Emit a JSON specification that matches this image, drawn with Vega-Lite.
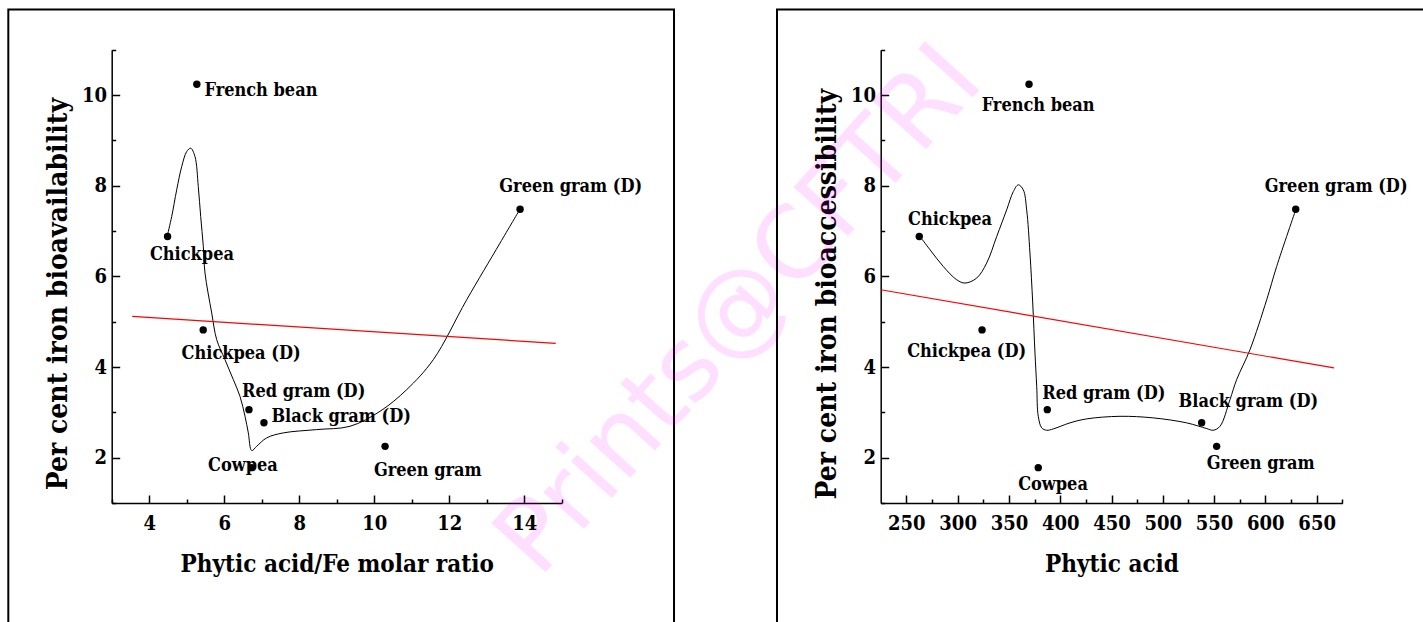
{
  "$schema": "https://vega.github.io/schema/vega-lite/v6.json",
  "background": "white",
  "width": 1423,
  "height": 622,
  "autosize": {"type": "none"},
  "padding": 0,
  "config": {
    "view": {"stroke": null},
    "font": "DejaVu Serif Condensed, DejaVu Serif",
    "axis": {
      "grid": false,
      "domainColor": "black",
      "domainWidth": 1.5,
      "tickColor": "black",
      "tickWidth": 1.5,
      "labelColor": "black",
      "labelFontSize": 20,
      "labelFontWeight": "bold",
      "labelFlush": false,
      "labelOverlap": false,
      "titleColor": "black",
      "titleFontWeight": "bold"
    }
  },
  "datasets": {
    "left_points": [
      {"name": "French bean", "ratio": 5.27, "bioavailability": 10.24, "label_x": 6.98, "label_y": 9.99},
      {"name": "Chickpea", "ratio": 4.49, "bioavailability": 6.88, "label_x": 5.14, "label_y": 6.37},
      {"name": "Green gram (D)", "ratio": 13.89, "bioavailability": 7.48, "label_x": 15.24, "label_y": 7.86},
      {"name": "Chickpea (D)", "ratio": 5.44, "bioavailability": 4.82, "label_x": 6.45, "label_y": 4.18},
      {"name": "Red gram (D)", "ratio": 6.66, "bioavailability": 3.06, "label_x": 8.12, "label_y": 3.34},
      {"name": "Black gram (D)", "ratio": 7.06, "bioavailability": 2.77, "label_x": 9.12, "label_y": 2.78},
      {"name": "Cowpea", "ratio": 6.73, "bioavailability": 1.78, "label_x": 6.5, "label_y": 1.7},
      {"name": "Green gram", "ratio": 10.29, "bioavailability": 2.25, "label_x": 11.43, "label_y": 1.59}
    ],
    "right_points": [
      {"name": "French bean", "phytic_acid": 369.6, "bioaccessibility": 10.24, "label_x": 378.5, "label_y": 9.65},
      {"name": "Chickpea", "phytic_acid": 262.6, "bioaccessibility": 6.88, "label_x": 292.6, "label_y": 7.14},
      {"name": "Green gram (D)", "phytic_acid": 629.6, "bioaccessibility": 7.48, "label_x": 669.0, "label_y": 7.86},
      {"name": "Chickpea (D)", "phytic_acid": 323.8, "bioaccessibility": 4.82, "label_x": 308.8, "label_y": 4.22},
      {"name": "Red gram (D)", "phytic_acid": 387.4, "bioaccessibility": 3.06, "label_x": 442.5, "label_y": 3.3},
      {"name": "Black gram (D)", "phytic_acid": 537.9, "bioaccessibility": 2.77, "label_x": 583.4, "label_y": 3.12},
      {"name": "Cowpea", "phytic_acid": 378.6, "bioaccessibility": 1.78, "label_x": 393.0, "label_y": 1.28},
      {"name": "Green gram", "phytic_acid": 552.5, "bioaccessibility": 2.25, "label_x": 595.5, "label_y": 1.74}
    ],
    "left_curve": [
      {"ratio": 4.483, "bioavailability": 6.896},
      {"ratio": 4.6, "bioavailability": 7.321},
      {"ratio": 4.733, "bioavailability": 7.91},
      {"ratio": 4.867, "bioavailability": 8.424},
      {"ratio": 5.0, "bioavailability": 8.754},
      {"ratio": 5.107, "bioavailability": 8.829},
      {"ratio": 5.221, "bioavailability": 8.644},
      {"ratio": 5.309, "bioavailability": 7.983},
      {"ratio": 5.373, "bioavailability": 7.321},
      {"ratio": 5.443, "bioavailability": 6.66},
      {"ratio": 5.488, "bioavailability": 6.074},
      {"ratio": 5.667, "bioavailability": 5.192},
      {"ratio": 5.8, "bioavailability": 4.604},
      {"ratio": 6.021, "bioavailability": 4.163},
      {"ratio": 6.243, "bioavailability": 3.722},
      {"ratio": 6.421, "bioavailability": 3.354},
      {"ratio": 6.555, "bioavailability": 2.913},
      {"ratio": 6.643, "bioavailability": 2.547},
      {"ratio": 6.733, "bioavailability": 2.157},
      {"ratio": 6.867, "bioavailability": 2.252},
      {"ratio": 7.133, "bioavailability": 2.437},
      {"ratio": 7.576, "bioavailability": 2.547},
      {"ratio": 8.467, "bioavailability": 2.62},
      {"ratio": 9.355, "bioavailability": 2.693},
      {"ratio": 10.155, "bioavailability": 3.023},
      {"ratio": 10.867, "bioavailability": 3.502},
      {"ratio": 11.576, "bioavailability": 4.163},
      {"ratio": 12.467, "bioavailability": 5.485},
      {"ratio": 13.355, "bioavailability": 6.735},
      {"ratio": 13.888, "bioavailability": 7.484}
    ],
    "right_curve": [
      {"phytic_acid": 263.3, "bioaccessibility": 6.881},
      {"phytic_acid": 273.1, "bioaccessibility": 6.588},
      {"phytic_acid": 286.0, "bioaccessibility": 6.219},
      {"phytic_acid": 299.1, "bioaccessibility": 5.926},
      {"phytic_acid": 307.2, "bioaccessibility": 5.853},
      {"phytic_acid": 318.6, "bioaccessibility": 5.964},
      {"phytic_acid": 328.3, "bioaccessibility": 6.294},
      {"phytic_acid": 338.1, "bioaccessibility": 6.881},
      {"phytic_acid": 347.8, "bioaccessibility": 7.469},
      {"phytic_acid": 354.3, "bioaccessibility": 7.872},
      {"phytic_acid": 359.1, "bioaccessibility": 8.02},
      {"phytic_acid": 364.0, "bioaccessibility": 7.91},
      {"phytic_acid": 367.3, "bioaccessibility": 7.469},
      {"phytic_acid": 370.5, "bioaccessibility": 6.515},
      {"phytic_acid": 373.2, "bioaccessibility": 5.413},
      {"phytic_acid": 375.4, "bioaccessibility": 4.311},
      {"phytic_acid": 377.1, "bioaccessibility": 3.574},
      {"phytic_acid": 378.6, "bioaccessibility": 2.913},
      {"phytic_acid": 382.0, "bioaccessibility": 2.657},
      {"phytic_acid": 386.8, "bioaccessibility": 2.605},
      {"phytic_acid": 393.3, "bioaccessibility": 2.635},
      {"phytic_acid": 409.5, "bioaccessibility": 2.768},
      {"phytic_acid": 425.8, "bioaccessibility": 2.856},
      {"phytic_acid": 458.3, "bioaccessibility": 2.913},
      {"phytic_acid": 490.7, "bioaccessibility": 2.878},
      {"phytic_acid": 523.3, "bioaccessibility": 2.768},
      {"phytic_acid": 542.8, "bioaccessibility": 2.642},
      {"phytic_acid": 549.2, "bioaccessibility": 2.605},
      {"phytic_acid": 555.8, "bioaccessibility": 2.693},
      {"phytic_acid": 565.5, "bioaccessibility": 3.281},
      {"phytic_acid": 572.0, "bioaccessibility": 3.722},
      {"phytic_acid": 585.0, "bioaccessibility": 4.383},
      {"phytic_acid": 601.3, "bioaccessibility": 5.485},
      {"phytic_acid": 611.0, "bioaccessibility": 6.219},
      {"phytic_acid": 629.6, "bioaccessibility": 7.469}
    ],
    "left_fit": [
      {"ratio": 3.549, "bioavailability": 5.117},
      {"ratio": 14.84, "bioavailability": 4.522}
    ],
    "right_fit": [
      {"phytic_acid": 225, "bioaccessibility": 5.706},
      {"phytic_acid": 666.9, "bioaccessibility": 3.98}
    ]
  },
  "resolve": {"scale": {"x": "independent"}, "axis": {"x": "independent", "y": "independent"}},
  "layer": [
    {
      "resolve": {"axis": {"x": "independent", "y": "independent"}},
      "layer": [
        {
          "data": {"values": [{}]},
          "mark": {"type": "rect", "filled": false, "stroke": "black", "strokeWidth": 2},
          "encoding": {
            "x": {"datum": 0.243, "type": "quantitative", "axis": null,
                  "scale": {"domain": [3, 15], "range": [111.7, 561.7], "nice": false, "zero": false}},
            "x2": {"datum": 17.995},
            "y": {"datum": 11.889, "type": "quantitative", "axis": null,
                  "scale": {"domain": [1, 11], "range": [503, 49.8], "nice": false, "zero": false}},
            "y2": {"datum": -2.5}
          }
        },
        {
          "data": {"name": "left_curve"},
          "mark": {"type": "line", "interpolate": "catmull-rom", "color": "black", "strokeWidth": 1},
          "encoding": {
            "x": {"field": "ratio", "type": "quantitative",
                  "axis": {"orient": "bottom", "offset": -119, "values": [3, 5, 7, 9, 11, 13, 15], "tickSize": -4, "labels": false, "domain": false, "title": null}},
            "y": {"field": "bioavailability", "type": "quantitative",
                  "axis": {"orient": "left", "offset": -111.7, "values": [1, 3, 5, 7, 9, 11], "tickSize": -4, "labels": false, "domain": false, "title": null}}
          }
        },
        {
          "data": {"name": "left_fit"},
          "mark": {"type": "line", "color": "#ff0000", "strokeWidth": 1.2},
          "encoding": {
            "x": {"field": "ratio", "type": "quantitative", "axis": null},
            "y": {"field": "bioavailability", "type": "quantitative", "axis": null}
          }
        },
        {
          "data": {"name": "left_points"},
          "mark": {"type": "circle", "size": 55, "color": "black", "opacity": 1},
          "encoding": {
            "x": {"field": "ratio", "type": "quantitative",
                  "axis": {"orient": "bottom", "offset": -119, "values": [4, 6, 8, 10, 12, 14], "tickSize": -8, "labelPadding": 34.3, "labelBaseline": "alphabetic",
                           "title": "Phytic acid/Fe molar ratio", "titleFontSize": 24, "titleY": 68, "titleBaseline": "alphabetic"}},
            "y": {"field": "bioavailability", "type": "quantitative",
                  "axis": {"orient": "left", "offset": -111.7, "values": [2, 4, 6, 8, 10], "tickSize": -8, "labelPadding": 13.2,
                           "title": "Per cent iron bioavailability", "titleFontSize": 28, "titleAngle": 270, "titleX": -45.7, "titleY": 293.6, "titleBaseline": "alphabetic", "titleAlign": "center"}}
          }
        },
        {
          "data": {"name": "left_points"},
          "mark": {"type": "text", "align": "center", "baseline": "alphabetic", "fontSize": 18, "fontWeight": "bold", "color": "black"},
          "encoding": {
            "x": {"field": "label_x", "type": "quantitative", "axis": null},
            "y": {"field": "label_y", "type": "quantitative", "axis": null},
            "text": {"field": "name"}
          }
        },
        {
          "data": {"values": [{}]},
          "mark": {"type": "text", "text": "Prints@CFTRI", "font": "DejaVu Sans", "fontSize": 100, "angle": -48, "align": "center", "baseline": "middle", "color": "#ff00ff", "opacity": 0.12},
          "encoding": {
            "x": {"datum": 19.755, "type": "quantitative", "axis": null},
            "y": {"datum": 5.237, "type": "quantitative", "axis": null}
          }
        }
      ]
    },
    {
      "resolve": {"axis": {"x": "independent", "y": "independent"}},
      "layer": [
        {
          "data": {"values": [{}]},
          "mark": {"type": "rect", "filled": false, "stroke": "black", "strokeWidth": 2},
          "encoding": {
            "x": {"datum": 123.9, "type": "quantitative", "axis": null,
                  "scale": {"domain": [225, 675], "range": [880.7, 1342.3], "nice": false, "zero": false}},
            "x2": {"datum": 800},
            "y": {"datum": 11.889, "type": "quantitative", "axis": null},
            "y2": {"datum": -2.5}
          }
        },
        {
          "data": {"name": "right_curve"},
          "mark": {"type": "line", "interpolate": "catmull-rom", "color": "black", "strokeWidth": 1},
          "encoding": {
            "x": {"field": "phytic_acid", "type": "quantitative",
                  "axis": {"orient": "bottom", "offset": -119, "values": [275, 325, 375, 425, 475, 525, 575, 625, 675], "tickSize": -4, "labels": false, "domain": false, "title": null}},
            "y": {"field": "bioaccessibility", "type": "quantitative",
                  "axis": {"orient": "left", "offset": -880.7, "values": [1, 3, 5, 7, 9, 11], "tickSize": -4, "labels": false, "domain": false, "title": null}}
          }
        },
        {
          "data": {"name": "right_fit"},
          "mark": {"type": "line", "color": "#ff0000", "strokeWidth": 1.2},
          "encoding": {
            "x": {"field": "phytic_acid", "type": "quantitative", "axis": null},
            "y": {"field": "bioaccessibility", "type": "quantitative", "axis": null}
          }
        },
        {
          "data": {"name": "right_points"},
          "mark": {"type": "circle", "size": 55, "color": "black", "opacity": 1},
          "encoding": {
            "x": {"field": "phytic_acid", "type": "quantitative",
                  "axis": {"orient": "bottom", "offset": -119, "values": [250, 300, 350, 400, 450, 500, 550, 600, 650], "tickSize": -8, "labelPadding": 34.3, "labelBaseline": "alphabetic",
                           "title": "Phytic acid", "titleFontSize": 24, "titleY": 68, "titleBaseline": "alphabetic"}},
            "y": {"field": "bioaccessibility", "type": "quantitative",
                  "axis": {"orient": "left", "offset": -880.7, "values": [2, 4, 6, 8, 10], "tickSize": -8, "labelPadding": 13.2,
                           "title": "Per cent iron bioaccessibility", "titleFontSize": 28, "titleAngle": 270, "titleX": -45.7, "titleY": 293.6, "titleBaseline": "alphabetic", "titleAlign": "center"}}
          }
        },
        {
          "data": {"name": "right_points"},
          "mark": {"type": "text", "align": "center", "baseline": "alphabetic", "fontSize": 18, "fontWeight": "bold", "color": "black"},
          "encoding": {
            "x": {"field": "label_x", "type": "quantitative", "axis": null},
            "y": {"field": "label_y", "type": "quantitative", "axis": null},
            "text": {"field": "name"}
          }
        }
      ]
    }
  ]
}
